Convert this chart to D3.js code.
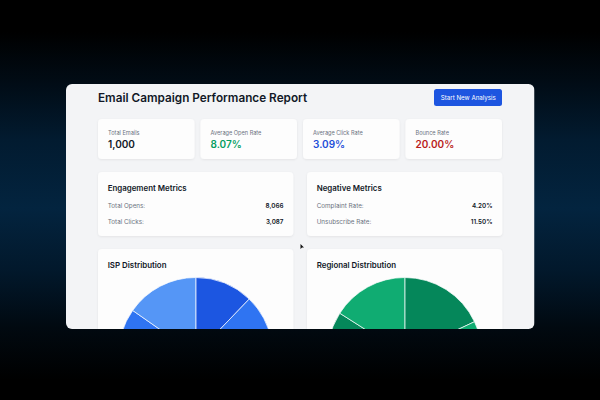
<!DOCTYPE html>
<html><head><meta charset="utf-8">
<script src="https://cdn.jsdelivr.net/npm/d3@7"></script>
<style>
html,body{margin:0;padding:0;background:#000;overflow:hidden}
svg{display:block}
text{font-family:Inter,"Noto Sans",sans-serif}
</style></head><body>
<svg id="c" width="600" height="400"></svg>
<script>
const statLabels=["Total Emails","Average Open Rate","Average Click Rate","Bounce Rate"];
const statValues=["1,000","8.07%","3.09%","20.00%"];
const statColors=["#111827","#059e62","#1d4ed8","#b91c1c"];
const engagementLabels=["Total Opens:","Total Clicks:"];
const engagementValues=[8066,3087];
const negativeLabels=["Complaint Rate:","Unsubscribe Rate:"];
const negativeValues=[4.20,11.50];
const ispShares=[12.2,20,22,20,10.5,15.3];
const ispColors=["#1c56e1","#2f74f2","#3b82f6","#1c56e1","#2f74f2","#5596f6"];
const regionShares=[18,14,26,14,12,16];
const regionColors=["#05875a","#10ac72","#10a56f","#05875a","#05875a","#10ac72"];

const svg=d3.select("#c");
const defs=svg.append("defs");
const bg=defs.append("linearGradient").attr("id","bg").attr("x1",0).attr("x2",0).attr("y1",0).attr("y2",1);
[[0,"#000"],[.08,"#000"],[.21,"#010c16"],[.35,"#021b30"],[.52,"#03243f"],[.68,"#02182b"],[.82,"#010910"],[.95,"#000"],[1,"#000"]].forEach(s=>bg.append("stop").attr("offset",s[0]).attr("stop-color",s[1]));
const sh=defs.append("filter").attr("id","sh").attr("x","-5%").attr("y","-5%").attr("width","110%").attr("height","115%");
sh.append("feDropShadow").attr("dx",0).attr("dy",.8).attr("stdDeviation",1.2).attr("flood-color","#000").attr("flood-opacity",.07);
defs.append("clipPath").attr("id","panel").append("rect").attr("x",66).attr("y",84).attr("width",468.5).attr("height",245).attr("rx",6);

svg.append("rect").attr("width",600).attr("height",400).attr("fill","url(#bg)");
const g=svg.append("g").attr("clip-path","url(#panel)");
g.append("rect").attr("x",66).attr("y",84).attr("width",468.5).attr("height",245).attr("fill","#f3f4f6");

function card(x,y,w,h){g.append("rect").attr("x",x).attr("y",y).attr("width",w).attr("height",h).attr("rx",4).attr("fill","#fdfdfd").attr("filter","url(#sh)");}
function txt(x,y,s,size,weight,fill,anchor){return g.append("text").attr("x",x).attr("y",y).attr("font-size",size).attr("font-weight",weight).attr("fill",fill).attr("text-anchor",anchor||"start").text(s);}

txt(98,102.3,"Email Campaign Performance Report",11.75,600,"#111827");
g.append("rect").attr("x",434).attr("y",89).attr("width",68).attr("height",17).attr("rx",2.5).attr("fill","#1d55e0");
txt(468.3,100.3,"Start New Analysis",6.2,400,"#fff","middle");

const statX=d3.scalePoint().domain(d3.range(4)).range([98,405.5]);
statLabels.forEach((l,i)=>{
  const x=statX(i);
  card(x,119,96.5,40);
  txt(x+10,134.8,l,5.6,400,"#6b7280");
  txt(x+10,147.8,statValues[i],10,600,statColors[i]);
});

function metric(x,title,labels,vals,fmt){
  card(x,172,195.3,64);
  txt(x+9.7,191,title,7.9,600,"#111827");
  labels.forEach((l,i)=>{
    const y=207.7+i*16.2;
    txt(x+9.7,y,l,6.3,400,"#6b7280");
    txt(x+185.5,y,fmt(vals[i]),6.3,600,"#111827","end");
  });
}
metric(98,"Engagement Metrics",engagementLabels,engagementValues,d3.format(","));
metric(307,"Negative Metrics",negativeLabels,negativeValues,v=>v.toFixed(2)+"%");

function pieCard(x,title,vals,cols){
  card(x,249,195.3,100);
  txt(x+9.7,267.5,title,7.9,600,"#111827");
  const arc=d3.arc().innerRadius(0).outerRadius(77);
  const p=g.append("g").attr("transform",`translate(${x+97.8},354.5)`);
  p.selectAll("path").data(d3.pie().sort(null)(vals)).join("path")
    .attr("d",arc).attr("fill",(d,i)=>cols[i]).attr("stroke","#fff").attr("stroke-width",.7);
}
pieCard(98,"ISP Distribution",ispShares,ispColors);
pieCard(307,"Regional Distribution",regionShares,regionColors);

svg.append("path").attr("d",d3.line()([[300.5,244],[300.5,249],[302,247.6],[304,247.6]])).attr("fill","#111");
</script>
</body></html>
